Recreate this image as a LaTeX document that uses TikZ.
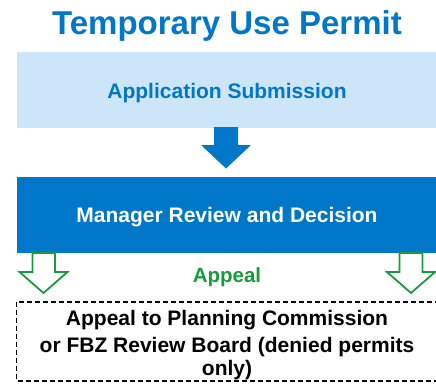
\documentclass[tikz,border=0pt]{standalone}
\usepackage{fontspec}
\setmainfont{Liberation Sans}
\definecolor{mainblue}{RGB}{0,119,200}
\definecolor{paleblue}{RGB}{204,229,248}
\definecolor{appgreen}{RGB}{24,155,60}
\begin{document}
\begin{tikzpicture}[x=1pt,y=-1pt,
  txt/.style={anchor=base,inner sep=0pt,font=\bfseries},
  greenarrow/.style={draw=appgreen,line width=1.8pt,fill=white,line join=miter}]
\useasboundingbox (0,0) rectangle (436,383);
% title
\node[txt,text=mainblue,font=\bfseries\fontsize{33}{36}\selectfont] (title) at (227,34.5) {Temporary Use Permit};
% application box
\fill[paleblue] (17,52) rectangle (437,127.5);
\node[txt,text=mainblue,font=\bfseries\fontsize{21}{24}\selectfont] (app) at (227,98) {Application Submission};
% blue arrow
\fill[mainblue] (214,127) -- (238,127) -- (238,145) -- (251,145) -- (226,168.5) -- (201,145) -- (214,145) -- cycle;
% manager box
\fill[mainblue] (17,177) rectangle (437,253);
\node[txt,text=white,font=\bfseries\fontsize{21}{24}\selectfont] (mgr) at (227,222) {Manager Review and Decision};
% green arrows
\draw[greenarrow] (32.5,253) -- (55,253) -- (55,272) -- (67.5,272) -- (43.5,293) -- (19.5,272) -- (32.5,272) -- cycle;
\draw[greenarrow] (399.5,253) -- (422.5,253) -- (422.5,272) -- (435,272) -- (411,293) -- (387,272) -- (399.5,272) -- cycle;
\node[txt,text=appgreen,font=\bfseries\fontsize{20.5}{24}\selectfont] (appeal) at (227,282) {Appeal};
% dashed box
\draw[line width=1.5pt,dash pattern=on 5pt off 3pt] (16.5,302) rectangle (445,381);
\node[txt,font=\bfseries\fontsize{21}{24}\selectfont] (l1) at (227,325) {Appeal to Planning Commission};
\node[txt,font=\bfseries\fontsize{21}{24}\selectfont] (l2) at (227,352) {or FBZ Review Board (denied permits};
\node[txt,font=\bfseries\fontsize{21}{24}\selectfont] (l3) at (227,375.5) {only)};
\end{tikzpicture}
\end{document}
